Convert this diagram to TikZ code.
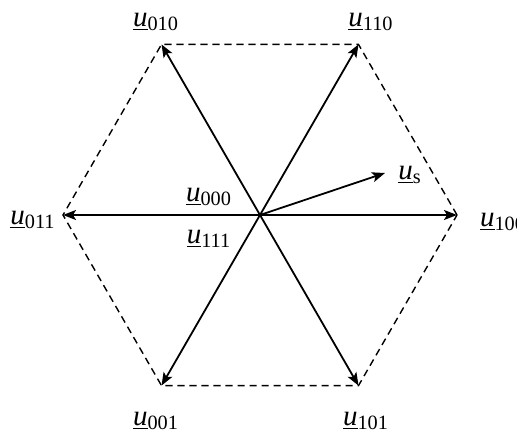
\documentclass[tikz,border=0pt]{standalone}
\usepackage{fontspec}
\setmainfont{Liberation Serif}
\usetikzlibrary{arrows.meta, positioning}
\newcommand{\uvec}[1]{$\underline{\hbox{\itshape u}}$\textsubscript{#1}}

\begin{document}
\begin{tikzpicture}[x=0.5pt, y=0.5pt,
  lbl/.style={inner sep=0pt, font=\fontsize{14.5}{17}\selectfont},
  vec/.style={-{Stealth[length=6.5pt, width=5pt, inset=1.5pt]}, line width=0.9pt},
  hex/.style={dashed, dash pattern=on 3.6pt off 2.4pt, line width=0.7pt}]
\useasboundingbox (-260,-217) rectangle (257,215);
\coordinate (O) at (0,0);
\coordinate (v100) at (0:197);
\coordinate (v110) at (60:197);
\coordinate (v010) at (120:197);
\coordinate (v011) at (180:197);
\coordinate (v001) at (240:197);
\coordinate (v101) at (300:197);
\coordinate (vs) at (125,42);
% hexagon
\draw[hex] (v100) -- (v110) -- (v010) -- (v011) -- (v001) -- (v101) -- cycle;
% switching vectors
\foreach \v in {v100, v110, v010, v011, v001, v101}
  \draw[vec] (O) -- (\v);
\draw[vec] (O) -- (vs);
% labels
\node[lbl] (l100) at (243,-7) {\uvec{100}};
\node[lbl] (l110) at (111,193) {\uvec{110}};
\node[lbl] (l010) at (-104,193) {\uvec{010}};
\node[lbl] (l011) at (-227,-5) {\uvec{011}};
\node[lbl] (l001) at (-104,-206) {\uvec{001}};
\node[lbl] (l101) at (106,-206) {\uvec{101}};
\node[lbl] (l000) at (-51,18) {\uvec{000}};
\node[lbl] (l111) at (-51,-24) {\uvec{111}};
\node[lbl] (ls) at (150,40) {\uvec{s}};
\end{tikzpicture}
\end{document}
